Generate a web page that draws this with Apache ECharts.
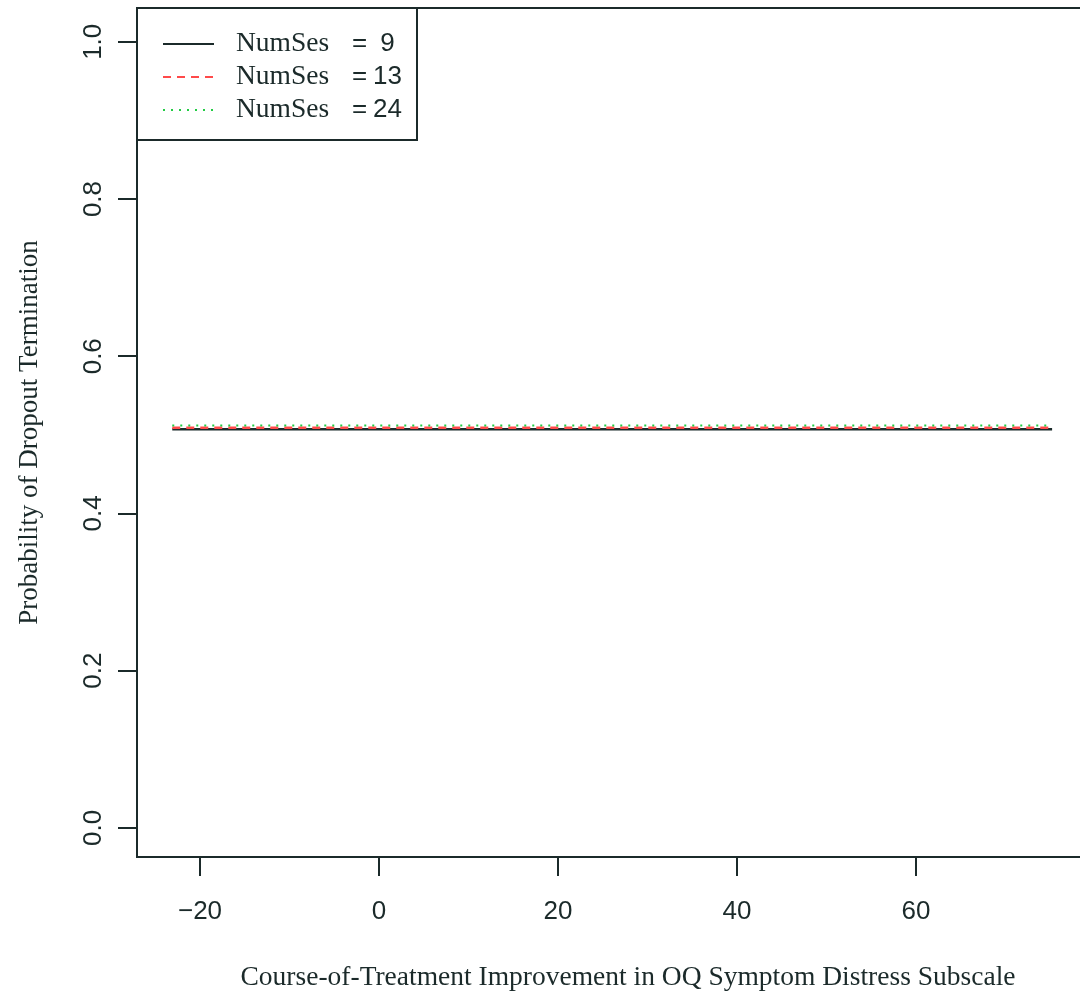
<!DOCTYPE html>
<html>
<head>
<meta charset="utf-8">
<script src="https://cdn.jsdelivr.net/npm/echarts@6/dist/echarts.min.js"></script>
<style>html,body{margin:0;padding:0;background:#fff}#c{width:1080px;height:994px}</style>
</head>
<body>
<div id="c"></div>
<script>
const seriesNames = ['9', '13', '24'];
const xRange = [-23.1, 75.2];
const probNumSes9 = [0.507, 0.507];
const probNumSes13 = [0.509, 0.509];
const probNumSes24 = [0.512, 0.512];
const xTicks = [-20, 0, 20, 40, 60];
const yTicks = [0.0, 0.2, 0.4, 0.6, 0.8, 1.0];

const ink = '#1b2a2a';
const serif = '"Liberation Serif", "DejaVu Serif", serif';
const sans = '"Liberation Sans", Arial, sans-serif';

function pts(vals) { return xRange.map((x, i) => [x, vals[i]]); }

const chart = echarts.init(document.getElementById('c'));
chart.setOption({
  backgroundColor: '#fff',
  animation: false,
  grid: {
    left: 137, top: 8, width: 950, height: 849,
    show: true, borderColor: ink, borderWidth: 2,
    outerBoundsMode: 'none', containLabel: false
  },
  xAxis: {
    type: 'value', min: -27.04, max: 79.1,
    splitLine: { show: false },
    axisLine: { show: true, onZero: false, lineStyle: { color: ink, width: 2 } },
    axisTick: { show: true, customValues: xTicks, length: 19, lineStyle: { color: ink, width: 2 } },
    axisLabel: {
      customValues: xTicks, margin: 42, color: ink, fontSize: 26, fontFamily: sans,
      formatter: v => String(v).replace('-', '\u2212')
    },
    name: 'Course-of-Treatment Improvement in OQ Symptom Distress Subscale',
    nameLocation: 'middle', nameGap: 107,
    nameTextStyle: { color: ink, fontSize: 27.5, fontFamily: serif, padding: [0, 0, 0, 32] }
  },
  yAxis: {
    type: 'value', min: -0.037, max: 1.043,
    splitLine: { show: false },
    axisLine: { show: true, onZero: false, lineStyle: { color: ink, width: 2 } },
    axisTick: { show: true, customValues: yTicks, length: 19, lineStyle: { color: ink, width: 2 } },
    axisLabel: {
      customValues: yTicks, margin: 30, rotate: 90, color: ink, fontSize: 26, fontFamily: sans,
      formatter: v => v.toFixed(1)
    },
    name: 'Probability of Dropout Termination',
    nameLocation: 'middle', nameGap: 94,
    nameTextStyle: { color: ink, fontSize: 27, fontFamily: serif }
  },
  legend: {
    orient: 'vertical', left: 137, top: 8,
    backgroundColor: '#fff',
    borderColor: ink, borderWidth: 2, borderRadius: 0,
    padding: [22, 14, 16, 25],
    itemWidth: 51, itemHeight: 14, itemGap: 5,
    itemStyle: { opacity: 0 },
    data: seriesNames.map(n => 'NumSes = ' + n),
    formatter: name => {
      const n = name.split('= ')[1];
      return '{a|NumSes}{b|=}{c|' + (n.length === 1 ? ' ' + n : n) + '}';
    },
    textStyle: {
      color: ink,
      rich: {
        a: { fontFamily: serif, fontSize: 27.5, width: 116, padding: [0, 0, 0, 17], lineHeight: 26, color: ink },
        b: { fontFamily: sans, fontSize: 26, width: 21, lineHeight: 26, color: ink },
        c: { fontFamily: sans, fontSize: 26, width: 30, lineHeight: 26, color: ink }
      }
    }
  },
  series: [
    { name: 'NumSes = 9', type: 'line', data: pts(probNumSes9), symbol: 'none',
      lineStyle: { color: '#1b2a2a', width: 2.5, type: 'solid' }, itemStyle: { color: '#1b2a2a' } },
    { name: 'NumSes = 13', type: 'line', data: pts(probNumSes13), symbol: 'none',
      lineStyle: { color: '#ff4a4a', width: 2.5, type: [8, 6] }, itemStyle: { color: '#ff4a4a' } },
    { name: 'NumSes = 24', type: 'line', data: pts(probNumSes24), symbol: 'none',
      lineStyle: { color: '#22cc44', width: 2, type: [2, 6] }, itemStyle: { color: '#22cc44' } }
  ]
});
</script>
</body>
</html>
